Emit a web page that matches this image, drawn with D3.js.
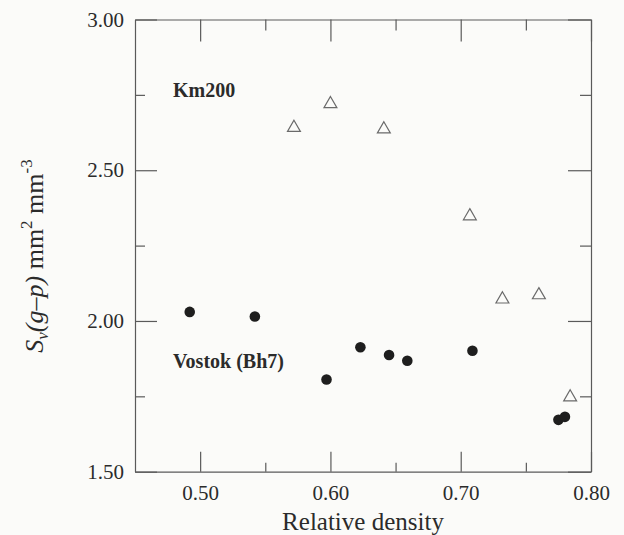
<!DOCTYPE html>
<html>
<head>
<meta charset="utf-8">
<script src="https://cdn.jsdelivr.net/npm/d3@7"></script>
<style>
  body { margin: 0; background: #fbfbf9; }
  .axis path, .axis line { stroke: #5a5a5a; stroke-width: 1.2; }
</style>
</head>
<body>
<div id="chart"></div>
<script>
// Vostok (Bh7) - filled circles
const vostok_density = [0.492, 0.542, 0.597, 0.623, 0.645, 0.659, 0.709, 0.775, 0.780];
const vostok_sv = [2.03, 2.015, 1.806, 1.913, 1.887, 1.868, 1.901, 1.672, 1.682];

// Km200 - open triangles
const km200_density = [0.572, 0.600, 0.641, 0.707, 0.732, 0.760, 0.784];
const km200_sv = [2.641, 2.720, 2.636, 2.348, 2.072, 2.086, 1.747];

const x_major = [0.50, 0.60, 0.70, 0.80];
const x_minor = [0.55, 0.65, 0.75];
const y_major = [1.50, 2.00, 2.50, 3.00];
const y_minor = [1.75, 2.25, 2.75];

const font = "'Liberation Serif', 'Times New Roman', serif";
const ink = '#2b2b2b';

const svg_width = 624, svg_height = 535;
const margin = { top: 19.5, right: 33, bottom: 63.3, left: 135 },
  width = svg_width - margin.left - margin.right,
  height = svg_height - margin.top - margin.bottom;

const svg = d3.select('#chart')
  .append('svg')
  .attr('width', svg_width)
  .attr('height', svg_height)
  .append('g')
  .attr('transform', 'translate(' + margin.left + ',' + margin.top + ')');

const x_scale = d3.scaleLinear().domain([0.45, 0.80]).range([0, width]);
const y_scale = d3.scaleLinear().domain([1.50, 3.00]).range([height, 0]);

// inward ticks on all four sides (the domain paths make the frame)
function ticks(axis, values, size) {
  return axis.tickValues(values).tickSize(-size).tickSizeOuter(0).tickFormat('');
}

svg.append('g').attr('class', 'axis')
  .attr('transform', 'translate(0,' + height + ')')
  .call(ticks(d3.axisBottom(x_scale), x_major, 20));
svg.append('g').attr('class', 'axis')
  .attr('transform', 'translate(0,' + height + ')')
  .call(ticks(d3.axisBottom(x_scale), x_minor, 9))
  .select('.domain').remove();

svg.append('g').attr('class', 'axis')
  .call(ticks(d3.axisTop(x_scale), x_major, 22));
svg.append('g').attr('class', 'axis')
  .call(ticks(d3.axisTop(x_scale), x_minor, 11))
  .select('.domain').remove();

svg.append('g').attr('class', 'axis')
  .call(ticks(d3.axisLeft(y_scale), y_major, 22));
svg.append('g').attr('class', 'axis')
  .call(ticks(d3.axisLeft(y_scale), y_minor, 10))
  .select('.domain').remove();

svg.append('g').attr('class', 'axis')
  .attr('transform', 'translate(' + width + ',0)')
  .call(ticks(d3.axisRight(y_scale), y_major, 23));
svg.append('g').attr('class', 'axis')
  .attr('transform', 'translate(' + width + ',0)')
  .call(ticks(d3.axisRight(y_scale), y_minor, 11))
  .select('.domain').remove();

// tick labels
const xl = svg.append('g')
  .attr('transform', 'translate(0,' + height + ')')
  .call(d3.axisBottom(x_scale).tickValues(x_major).tickSize(0).tickPadding(13).tickFormat(d3.format('.2f')));
xl.select('.domain').remove();

const yl = svg.append('g')
  .call(d3.axisLeft(y_scale).tickValues(y_major).tickSize(0).tickPadding(11).tickFormat(d3.format('.2f')));
yl.select('.domain').remove();

[xl, yl].forEach(function (g) {
  g.selectAll('text')
    .style('font-family', font)
    .style('font-size', '21px')
    .attr('fill', ink);
});

// axis titles
svg.append('text')
  .attr('x', width / 2)
  .attr('y', height + 58.5)
  .attr('text-anchor', 'middle')
  .attr('fill', ink)
  .style('font-family', font)
  .style('font-size', '25px')
  .text('Relative density');

const ylab = svg.append('text')
  .attr('transform', 'translate(' + (43 - margin.left) + ',' + (256 - margin.top) + ') rotate(-90)')
  .attr('text-anchor', 'middle')
  .attr('fill', ink)
  .style('font-family', font)
  .style('font-size', '26px');
ylab.append('tspan').style('font-style', 'italic').text('S');
ylab.append('tspan').style('font-style', 'italic').style('font-size', '17px').attr('dy', 5).text('v');
ylab.append('tspan').style('font-style', 'italic').attr('dy', -5).text('(g–p)');
ylab.append('tspan').text(' mm');
ylab.append('tspan').style('font-size', '17px').attr('dy', -11).text('2');
ylab.append('tspan').attr('dy', 11).text(' mm');
ylab.append('tspan').style('font-size', '17px').attr('dy', -11).text('-3');

// series labels
svg.append('text')
  .attr('x', 173 - margin.left)
  .attr('y', 97 - margin.top)
  .attr('fill', ink)
  .style('font-family', font)
  .style('font-size', '20px')
  .style('font-weight', 'bold')
  .text('Km200');

svg.append('text')
  .attr('x', 173 - margin.left)
  .attr('y', 368 - margin.top)
  .attr('fill', ink)
  .style('font-family', font)
  .style('font-size', '20px')
  .style('font-weight', 'bold')
  .text('Vostok (Bh7)');

// points
svg.append('g')
  .selectAll('circle')
  .data(d3.zip(vostok_density, vostok_sv))
  .enter()
  .append('circle')
  .attr('cx', function (d) { return x_scale(d[0]); })
  .attr('cy', function (d) { return y_scale(d[1]); })
  .attr('r', 5.3)
  .attr('fill', '#1e1e1e');

const triangle = d3.symbol().type(d3.symbolTriangle).size(72);
svg.append('g')
  .selectAll('path')
  .data(d3.zip(km200_density, km200_sv))
  .enter()
  .append('path')
  .attr('d', triangle)
  .attr('transform', function (d) {
    return 'translate(' + x_scale(d[0]) + ',' + y_scale(d[1]) + ')';
  })
  .attr('fill', 'none')
  .attr('stroke', '#6a6a6a')
  .attr('stroke-width', 1.2);
</script>
</body>
</html>
